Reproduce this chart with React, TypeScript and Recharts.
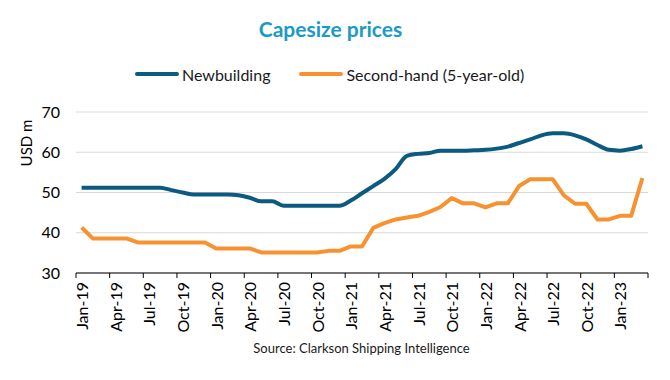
import { CartesianGrid, Line, LineChart, XAxis, YAxis } from "recharts";

const months = [
  "Jan-19", "Feb-19", "Mar-19", "Apr-19", "May-19", "Jun-19", "Jul-19", "Aug-19", "Sep-19", "Oct-19", "Nov-19", "Dec-19",
  "Jan-20", "Feb-20", "Mar-20", "Apr-20", "May-20", "Jun-20", "Jul-20", "Aug-20", "Sep-20", "Oct-20", "Nov-20", "Dec-20",
  "Jan-21", "Feb-21", "Mar-21", "Apr-21", "May-21", "Jun-21", "Jul-21", "Aug-21", "Sep-21", "Oct-21", "Nov-21", "Dec-21",
  "Jan-22", "Feb-22", "Mar-22", "Apr-22", "May-22", "Jun-22", "Jul-22", "Aug-22", "Sep-22", "Oct-22", "Nov-22", "Dec-22",
  "Jan-23", "Feb-23", "Mar-23",
];

// USD m
const newbuilding = [
  51.2, 51.2, 51.2, 51.2, 51.2, 51.2, 51.2, 51.2, 50.6, 50.0, 49.5, 49.5,
  49.5, 49.5, 49.3, 48.7, 47.8, 47.8, 46.7, 46.7, 46.7, 46.7, 46.7, 46.7,
  48.0, 49.8, 51.6, 53.4, 55.8, 59.1, 59.6, 59.8, 60.4, 60.4, 60.4, 60.5,
  60.6, 60.9, 61.4, 62.3, 63.2, 64.2, 64.7, 64.7, 64.2, 63.2, 61.8, 60.6,
  60.4, 60.8, 61.5,
];

const secondHand = [
  41.3, 38.6, 38.6, 38.6, 38.6, 37.6, 37.6, 37.6, 37.6, 37.6, 37.6, 37.6,
  36.1, 36.1, 36.1, 36.1, 35.1, 35.1, 35.1, 35.1, 35.1, 35.1, 35.5, 35.5,
  36.6, 36.6, 41.2, 42.4, 43.3, 43.8, 44.2, 45.2, 46.4, 48.6, 47.3, 47.3,
  46.3, 47.3, 47.3, 51.6, 53.3, 53.3, 53.3, 49.3, 47.2, 47.2, 43.3, 43.3,
  44.2, 44.2, 53.6,
];

const yTicks = [30, 40, 50, 60, 70];

const data = months.map((month, i) => ({
  t: i,
  month,
  newbuilding: newbuilding[i],
  secondHand: secondHand[i],
}));

// tick marks sit between months, every quarter
const quarterTicks: number[] = [];
for (let k = 0; k <= months.length; k += 3) quarterTicks.push(k - 0.5);

const PLOT_W = 670 - 76 - 22;
const HALF_STEP = PLOT_W / months.length / 2;

const BLUE = "#0b5a80";
const ORANGE = "#f79230";
const FONT = "Lato, 'Open Sans', sans-serif";

function MonthTick(props: any) {
  const { x, y, payload } = props;
  const label = months[Math.round(payload.value + 0.5)];
  if (!label) return <g />;
  const cx = x + HALF_STEP;
  return (
    <text
      x={cx}
      y={y}
      transform={`rotate(-90, ${cx}, ${y})`}
      textAnchor="end"
      dominantBaseline="central"
      fontSize={16}
      fill="#000"
      fontFamily={FONT}
    >
      {label}
    </text>
  );
}

export default function App() {
  return (
    <div style={{ position: "absolute", left: 0, top: 0, width: 670, height: 380, background: "#fff", fontFamily: FONT }}>
      <div
        style={{
          position: "absolute",
          left: 0,
          width: 661,
          top: 17,
          textAlign: "center",
          fontSize: 21,
          lineHeight: "24px",
          fontWeight: 700,
          color: "#1b9ac7",
        }}
      >
        Capesize prices
      </div>

      <div style={{ position: "absolute", top: 64, left: 135, height: 20, display: "flex", alignItems: "center", fontSize: 16, color: "#1a1a1a" }}>
        <span style={{ display: "inline-block", width: 44, height: 4, borderRadius: 2, background: BLUE, marginRight: 3 }} />
        <span>Newbuilding</span>
        <span style={{ display: "inline-block", width: 44, height: 4, borderRadius: 2, background: ORANGE, marginLeft: 29, marginRight: 3 }} />
        <span>Second-hand (5-year-old)</span>
      </div>

      <div
        style={{
          position: "absolute",
          left: 26,
          top: 143,
          fontSize: 15,
          color: "#000",
          whiteSpace: "nowrap",
          transform: "translate(-50%, -50%) rotate(-90deg)",
        }}
      >
        USD m
      </div>

      <LineChart width={670} height={380} data={data} margin={{ top: 112, right: 22, bottom: 47, left: 0 }}>
        <CartesianGrid vertical={false} stroke="#d9d9d9" />
        <XAxis
          type="number"
          dataKey="t"
          domain={[-0.5, months.length - 0.5]}
          ticks={quarterTicks}
          interval={0}
          tickSize={5}
          tickMargin={4}
          height={60}
          axisLine={{ stroke: "#000" }}
          tickLine={{ stroke: "#000" }}
          tick={<MonthTick />}
        />
        <YAxis
          type="number"
          domain={[30, 70]}
          ticks={yTicks}
          width={76}
          axisLine={false}
          tickLine={false}
          tickSize={6}
          tickMargin={10}
          tick={{ fontSize: 16, fill: "#000", fontFamily: FONT }}
        />
        <Line
          type="monotone"
          dataKey="newbuilding"
          stroke={BLUE}
          strokeWidth={4}
          strokeLinejoin="round"
          dot={false}
          isAnimationActive={false}
        />
        <Line
          type="linear"
          dataKey="secondHand"
          stroke={ORANGE}
          strokeWidth={4}
          strokeLinejoin="round"
          dot={false}
          isAnimationActive={false}
        />
      </LineChart>

      <div
        style={{
          position: "absolute",
          left: 0,
          width: 723,
          top: 341,
          textAlign: "center",
          fontSize: 13,
          lineHeight: "14px",
          color: "#1a1a1a",
        }}
      >
        Source: Clarkson Shipping Intelligence
      </div>
    </div>
  );
}
